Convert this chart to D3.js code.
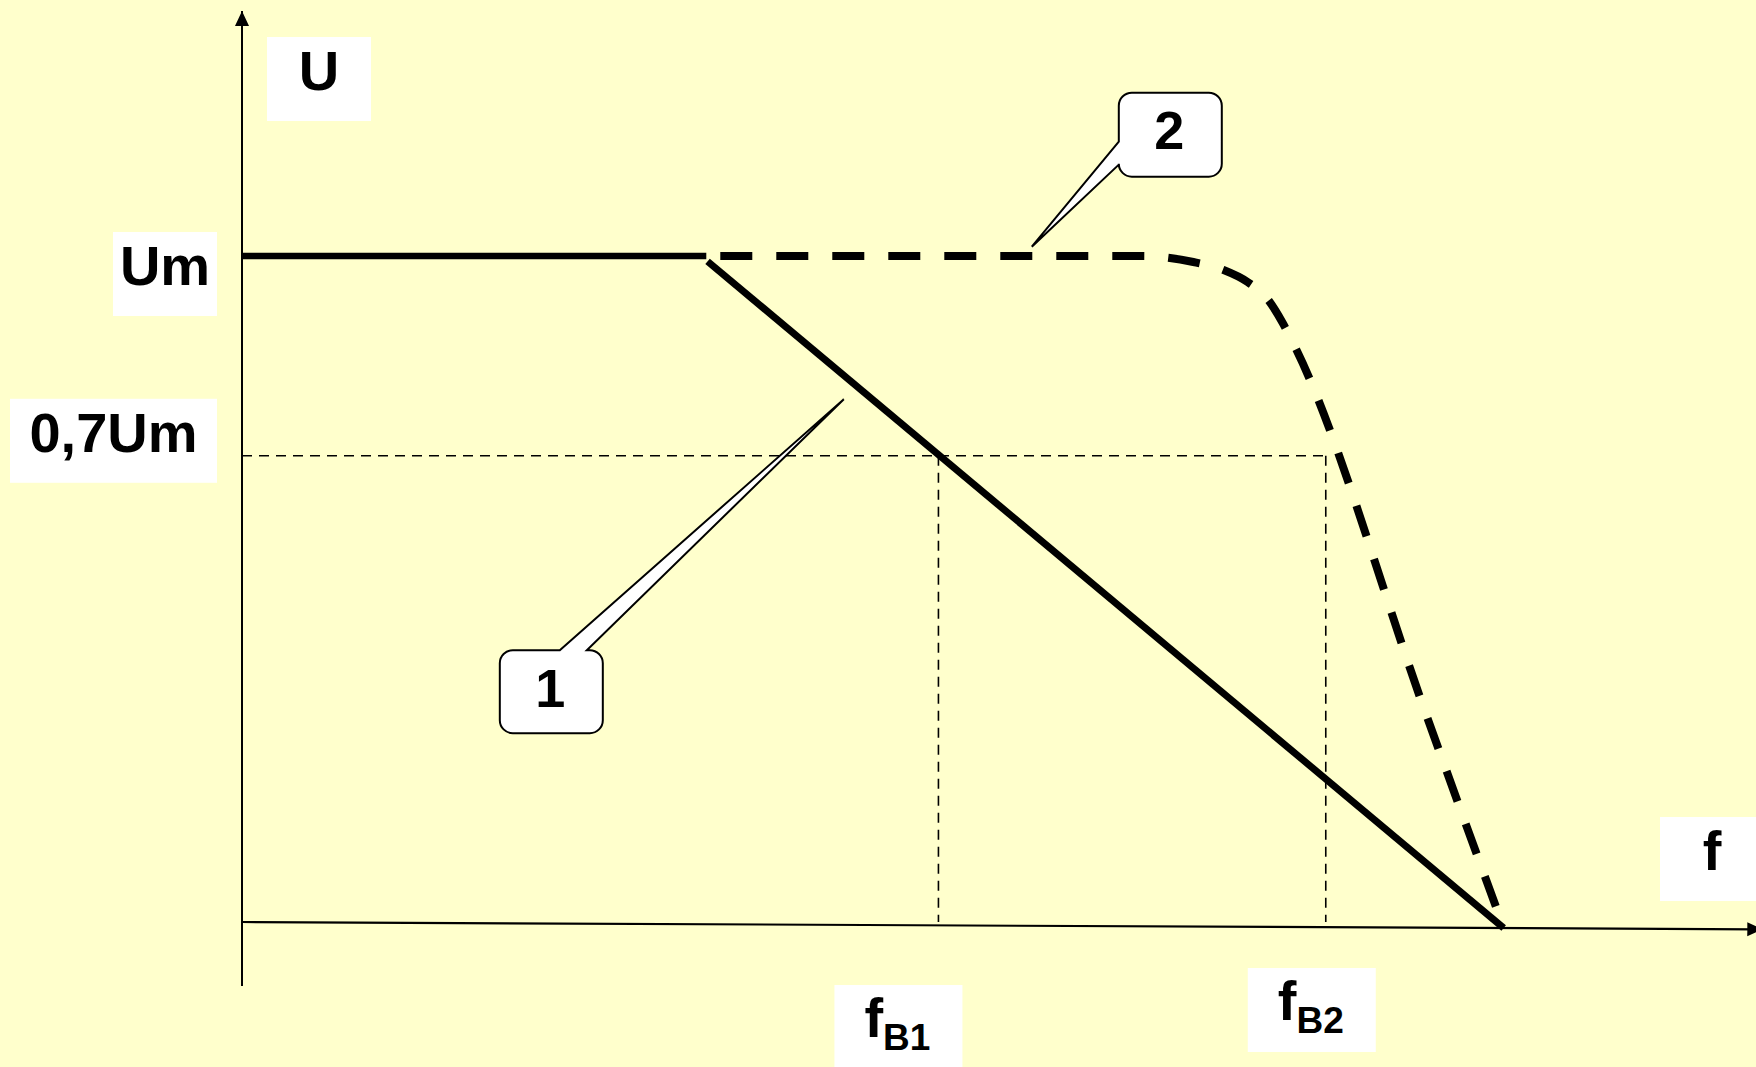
<!DOCTYPE html>
<html>
<head>
<meta charset="utf-8">
<script src="https://cdn.jsdelivr.net/npm/d3@7"></script>
<style>
  html, body { margin: 0; padding: 0; background: #ffffcc; overflow: hidden; }
  svg { display: block; }
</style>
</head>
<body>
<div id="chart"></div>
<script>
// Frequency response U(f): f in arbitrary units, U in units of Um
const levelValues = [1, 0.7];
const levelLabels = ["Um", "0,7Um"];
const cutoffValues = [5.52, 8.59];
const cutoffLabels = [["f", "B1"], ["f", "B2"]];
const axisNames = ["U", "f"];

// curve 1 (solid): flat part, then falling part
const curve1Flat = [[0, 1], [3.68, 1]];
const curve1Fall = [[3.69, 0.992], [10, -0.009]];
// curve 2 (dashed)
const curve2 = [[3.68, 1], [7.13, 1], [7.54, 0.991], [7.78, 0.979], [7.97, 0.961],
                [8.13, 0.935], [8.25, 0.899], [8.35, 0.862], [9.39, 0.309], [10, -0.009]];

// callouts pointing at the curves
const calloutLabels = ["1", "2"];
const calloutTips = [[4.77, 0.785], [6.26, 1.014]];

// axis extents (x axis is drawn slightly tilted, as in the original)
const xAxisEnds = [[0, 0], [12.05, -0.011]];
const yAxisEnds = [[0, -0.096], [0, 1.368]];

document.addEventListener('DOMContentLoaded', function() {
    const width = 1756, height = 1067;

    const svg = d3.select("#chart")
        .append("svg")
        .attr("width", width)
        .attr("height", height);

    svg.append("rect")
        .attr("width", width)
        .attr("height", height)
        .attr("fill", "#ffffcc");

    const x = d3.scaleLinear().domain([0, 12]).range([242, 1756]);
    const y = d3.scaleLinear().domain([0, 1]).range([922, 256]);

    const line = d3.line().x(d => x(d[0])).y(d => y(d[1]));

    // arrow head
    svg.append("defs").append("marker")
        .attr("id", "arrow")
        .attr("markerUnits", "userSpaceOnUse")
        .attr("markerWidth", 16)
        .attr("markerHeight", 16)
        .attr("refX", 15)
        .attr("refY", 7)
        .attr("orient", "auto")
        .append("path")
        .attr("d", "M0,0 L15,7 L0,14 Z")
        .attr("fill", "#000");

    // axes
    svg.append("path")
        .attr("d", line(yAxisEnds))
        .attr("stroke", "#000")
        .attr("stroke-width", 2)
        .attr("marker-end", "url(#arrow)");

    svg.append("path")
        .attr("d", line(xAxisEnds))
        .attr("stroke", "#000")
        .attr("stroke-width", 2.2)
        .attr("marker-end", "url(#arrow)");

    // thin dashed guides at 0,7Um
    const guide = svg.append("g")
        .attr("stroke", "#000")
        .attr("stroke-width", 1.6)
        .attr("stroke-dasharray", "10,7")
        .attr("fill", "none");

    guide.append("path")
        .attr("d", line([[0, levelValues[1]], [cutoffValues[1], levelValues[1]]]));

    cutoffValues.forEach(fc => {
        guide.append("path")
            .attr("d", line([[fc, levelValues[1]], [fc, 0]]));
    });

    // curve 2 (dashed)
    svg.append("path")
        .attr("d", d3.line().x(d => x(d[0])).y(d => y(d[1])).curve(d3.curveMonotoneX)(curve2))
        .attr("fill", "none")
        .attr("stroke", "#000")
        .attr("stroke-width", 8)
        .attr("stroke-dasharray", "32,24")
        .attr("stroke-dashoffset", 42);

    // curve 1 (solid)
    [curve1Flat, curve1Fall].forEach((seg, i) => {
        svg.append("path")
            .attr("d", line(seg))
            .attr("fill", "none")
            .attr("stroke", "#000")
            .attr("stroke-width", i === 0 ? 6.5 : 7);
    });

    // white label boxes
    const font = "'Liberation Sans', Arial, sans-serif";
    function labelBox(bx, by, w, h) {
        svg.append("rect")
            .attr("x", bx).attr("y", by)
            .attr("width", w).attr("height", h)
            .attr("fill", "#fff");
    }
    function labelText(cx, baseline, parts) {
        const t = svg.append("text")
            .attr("x", cx).attr("y", baseline)
            .attr("text-anchor", "middle")
            .style("font-family", font)
            .style("font-weight", "bold")
            .style("font-size", "56px");
        t.append("tspan").text(parts[0]);
        if (parts[1]) {
            t.append("tspan")
                .attr("dy", 13)
                .style("font-size", "37px")
                .text(parts[1]);
        }
    }

    // axis names
    labelBox(x(0) + 25, 37, 104, 84);
    labelText(x(0) + 77, 90, [axisNames[0]]);
    labelBox(1660, y(0) - 105, 104, 84);
    labelText(1712, y(0) - 52, [axisNames[1]]);

    // level labels
    const levelBoxW = [104, 207];
    const levelBoxTop = [-24, -57];
    levelValues.forEach((v, i) => {
        const right = x(0) - 25;
        const top = y(v) + levelBoxTop[i];
        labelBox(right - levelBoxW[i], top, levelBoxW[i], 84);
        labelText(right - levelBoxW[i] / 2, top + 53, [levelLabels[i]]);
    });

    // cutoff frequency labels
    const cutoffShift = [-40, -14];
    const cutoffTop = [985, 968];
    cutoffValues.forEach((fc, i) => {
        const cx = x(fc) + cutoffShift[i];
        labelBox(cx - 64, cutoffTop[i], 128, 84);
        labelText(cx - 1, cutoffTop[i] + 52, cutoffLabels[i]);
    });

    // callouts: rounded box with a wedge pointing to the curve
    function calloutPath(bx, by, w, h, r, side, a, b, tx, ty) {
        let p = `M${bx + r},${by}`;
        if (side === "top") p += ` L${bx + a},${by} L${tx},${ty} L${bx + b},${by}`;
        p += ` L${bx + w - r},${by} A${r},${r} 0 0 1 ${bx + w},${by + r}`;
        p += ` L${bx + w},${by + h - r} A${r},${r} 0 0 1 ${bx + w - r},${by + h}`;
        p += ` L${bx + r},${by + h} A${r},${r} 0 0 1 ${bx},${by + h - r}`;
        if (side === "left") p += ` L${bx},${by + b} L${tx},${ty} L${bx},${by + a}`;
        p += ` L${bx},${by + r} A${r},${r} 0 0 1 ${bx + r},${by} Z`;
        return p;
    }

    const calloutLayout = [
        {dx: -344, dy: 251, w: 103, h: 83, side: "top", a: 60, b: 87, base: 57},
        {dx: 87, dy: -154, w: 103, h: 84, side: "left", a: 49, b: 72, base: 56}
    ];

    calloutTips.forEach((tip, i) => {
        const tx = x(tip[0]), ty = y(tip[1]);
        const L = calloutLayout[i];
        const bx = tx + L.dx, by = ty + L.dy;
        svg.append("path")
            .attr("d", calloutPath(bx, by, L.w, L.h, 13, L.side, L.a, L.b, tx, ty))
            .attr("fill", "#fff")
            .attr("stroke", "#000")
            .attr("stroke-width", 2)
            .attr("stroke-linejoin", "miter");
        svg.append("text")
            .attr("x", bx + L.w / 2 - 1)
            .attr("y", by + L.base)
            .attr("text-anchor", "middle")
            .style("font-family", font)
            .style("font-weight", "bold")
            .style("font-size", "54px")
            .text(calloutLabels[i]);
    });
});
</script>
</body>
</html>
